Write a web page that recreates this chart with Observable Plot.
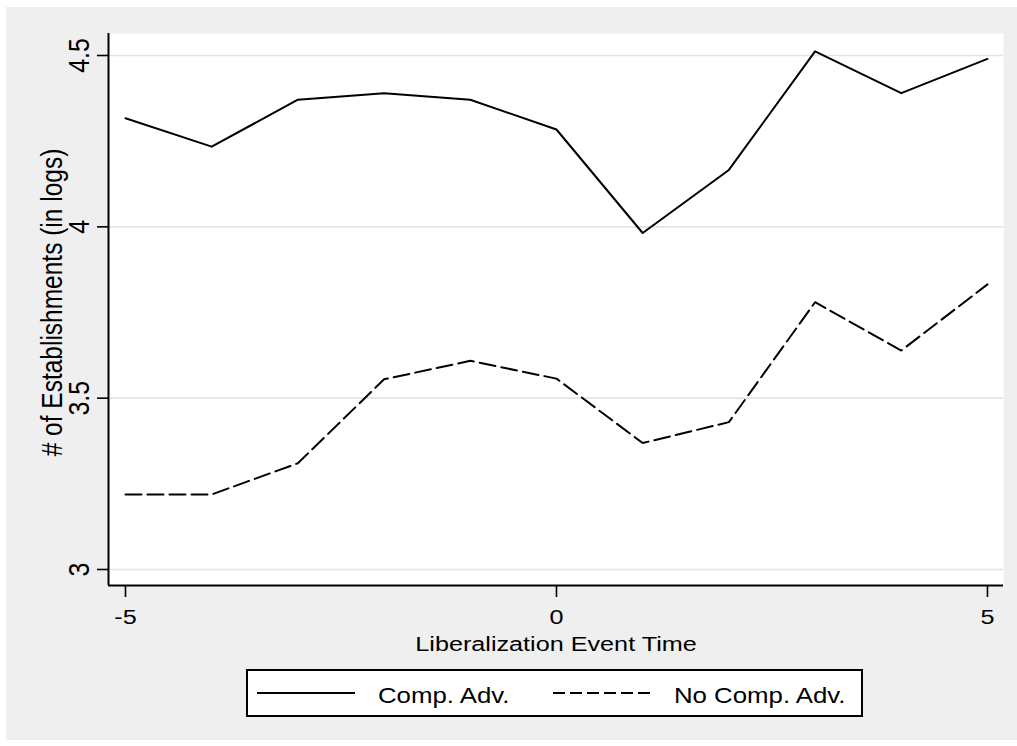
<!DOCTYPE html>
<html>
<head>
<meta charset="utf-8">
<script src="https://cdn.jsdelivr.net/npm/d3@7"></script>
<script src="https://cdn.jsdelivr.net/npm/@observablehq/plot@0.6"></script>
<style>
  body { margin: 0; background: #ffffff; width: 1017px; height: 746px; overflow: hidden; }
  #bg { position: absolute; left: 6px; top: 7px; width: 1011px; height: 733px; background: #efefef; }
  #chart { position: absolute; left: 0; top: 0; }
  #legend { position: absolute; left: 246px; top: 669px; }
</style>
</head>
<body>
<div id="bg"></div>
<div id="chart"></div>
<div id="legend"></div>
<script>
// ---- data ----
const eventTime = [-5, -4, -3, -2, -1, 0, 1, 2, 3, 4, 5];
const compAdv   = [4.317, 4.234, 4.371, 4.390, 4.371, 4.284, 3.982, 4.166, 4.512, 4.390, 4.490];
const noCompAdv = [3.219, 3.219, 3.310, 3.555, 3.609, 3.557, 3.369, 3.430, 3.780, 3.639, 3.832];
const seriesNames = ["Comp. Adv.", "No Comp. Adv."];
const yTicks = [3, 3.5, 4, 4.5];
const xTicks = [-5, 0, 5];
const xTitle = "Liberalization Event Time";
const yTitle = "# of Establishments (in logs)";

// ---- layout / style ----
const FONT = "'Liberation Sans', Arial, Helvetica, sans-serif";
const STRETCH = 1.2;
const xDomain = [-5.197, 5.186];
const yDomain = [2.9533, 4.5642];
const dashFor = [null, "16,6"];
const legendDash = [null, "12,5"];

const rows = eventTime.flatMap((t, i) => [
  {t, v: compAdv[i], s: seriesNames[0]},
  {t, v: noCompAdv[i], s: seriesNames[1]}
]);

const chart = Plot.plot({
  width: 1017, height: 660,
  marginLeft: 108, marginRight: 14, marginTop: 33, marginBottom: 75,
  style: {background: "transparent", fontFamily: FONT, color: "#000", overflow: "visible"},
  x: {domain: xDomain},
  y: {domain: yDomain},
  marks: [
    Plot.frame({fill: "#ffffff", stroke: "none"}),
    Plot.gridY(yTicks, {stroke: "#e4e4e4", strokeOpacity: 1, strokeWidth: 1.6}),
    ...seriesNames.map((name, k) =>
      Plot.line(rows.filter(d => d.s === name), {
        x: "t", y: "v", stroke: "#000", strokeWidth: 2,
        strokeDasharray: dashFor[k] || undefined
      })
    ),
    Plot.ruleX([xDomain[0]], {stroke: "#000", strokeWidth: 2}),
    Plot.ruleY([yDomain[0]], {stroke: "#000", strokeWidth: 2}),
    Plot.axisY(yTicks, {tickSize: 11, tickPadding: 9, tickRotate: -90, tickFormat: d => String(d),
      fontSize: 25, label: null, strokeWidth: 1.6}),
    Plot.axisX(xTicks, {tickSize: 12, tickPadding: 12, tickFormat: d => String(d),
      fontSize: 21, label: null, strokeWidth: 1.6}),
    Plot.text([yTitle], {text: d => d, frameAnchor: "left", rotate: -90, dx: -47, dy: -7,
      textAnchor: "middle", lineAnchor: "bottom", fontSize: 24.5, fill: "#000"}),
    Plot.text([xTitle], {text: d => d, frameAnchor: "bottom", dy: 65,
      textAnchor: "middle", lineAnchor: "bottom", fontSize: 21, fill: "#000"})
  ]
});
document.getElementById("chart").appendChild(chart);

// horizontal stretch of glyphs (the reference is rendered slightly wider than tall)
function stretch(root, k) {
  root.querySelectorAll("text").forEach(t => {
    const tr = t.getAttribute("transform") || "";
    const xa = t.getAttribute("x");
    let ax = (xa && /^[-\d.e]+$/.test(xa.trim())) ? +xa : 0;
    const m = tr.match(/translate\(\s*([-\d.e]+)[,\s]+([-\d.e]+)\s*\)/);
    if (m) ax += +m[1];
    t.setAttribute("transform", `translate(${ax},0) scale(${k},1) translate(${-ax},0) ${tr}`);
  });
}
stretch(chart, STRETCH);

// ---- legend ----
const leg = d3.select("#legend").append("svg")
  .attr("width", 617).attr("height", 48)
  .style("font-family", FONT);
leg.append("rect").attr("x", 1).attr("y", 1).attr("width", 615).attr("height", 46)
  .attr("fill", "#fff").attr("stroke", "#000").attr("stroke-width", 2);
const itemX = [11, 307];
seriesNames.forEach((name, k) => {
  leg.append("line")
    .attr("x1", itemX[k]).attr("x2", itemX[k] + 98)
    .attr("y1", 24).attr("y2", 24)
    .attr("stroke", "#000").attr("stroke-width", 2)
    .attr("stroke-dasharray", legendDash[k]);
  leg.append("text")
    .attr("x", itemX[k] + 121).attr("y", 34)
    .attr("font-size", 21.5).attr("fill", "#000")
    .text(name);
});
stretch(leg.node(), STRETCH);
</script>
</body>
</html>
